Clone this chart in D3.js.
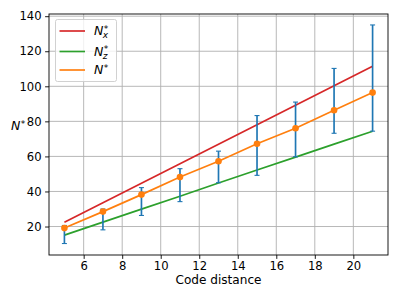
<!DOCTYPE html>
<html>
<head>
<meta charset="utf-8">
<script src="https://cdn.jsdelivr.net/npm/d3@7"></script>
<style>
  body { margin: 0; background: #fff; }
  svg { display: block; font-family: "DejaVu Sans", sans-serif; }
</style>
</head>
<body>
<script>
// data
var codeDistance = [5, 7, 9, 11, 13, 15, 17, 19, 21];
var nStar     = [19.1, 28.5, 38.2, 48.2, 57.2, 67.2, 76.1, 86.3, 96.4];
var nStarLow  = [10.3, 18.1, 26.3, 34.2, 45.0, 49.2, 59.8, 73.2, 74.4];
var nStarHigh = [20.6, 30.0, 42.2, 53.0, 63.0, 83.3, 91.0, 110.2, 135.0];
var nX = [22.5, 33.6, 44.7, 55.8, 66.9, 78.0, 89.2, 100.3, 111.4];
var nZ = [15.1, 22.5, 29.9, 37.3, 44.8, 52.2, 59.6, 67.0, 74.4];
var xTicks = [6, 8, 10, 12, 14, 16, 18, 20];
var yTicks = [20, 40, 60, 80, 100, 120, 140];

var W = 399, H = 299;
var pLeft = 49, pRight = 388, pTop = 14, pBottom = 255;
var fs = 11.6;

var svg = d3.select("body").append("svg").attr("width", W).attr("height", H);

var x = d3.scaleLinear().domain([4.2, 21.8]).range([pLeft, pRight]);
var y = d3.scaleLinear().domain([3.75, 141.25]).range([pBottom, pTop]);

// grid
svg.append("g").selectAll("line").data(xTicks).enter().append("line")
      .attr("x1", function(d){ return x(d); }).attr("x2", function(d){ return x(d); })
      .attr("y1", pTop).attr("y2", pBottom)
      .attr("stroke", "#b0b0b0").attr("stroke-width", 0.9);
svg.append("g").selectAll("line").data(yTicks).enter().append("line")
      .attr("y1", function(d){ return y(d); }).attr("y2", function(d){ return y(d); })
      .attr("x1", pLeft).attr("x2", pRight)
      .attr("stroke", "#b0b0b0").attr("stroke-width", 0.9);

var line = function(vals){
  return d3.line().x(function(d, i){ return x(codeDistance[i]); }).y(function(d){ return y(d); })(vals);
};

svg.append("path").attr("d", line(nX)).attr("fill", "none").attr("stroke", "#d62728").attr("stroke-width", 1.67);
svg.append("path").attr("d", line(nZ)).attr("fill", "none").attr("stroke", "#2ca02c").attr("stroke-width", 1.67);

// error bars
var eb = svg.append("g").attr("stroke", "#1f77b4").attr("stroke-width", 1.67);
codeDistance.forEach(function(d, i){
  eb.append("line").attr("x1", x(d)).attr("x2", x(d)).attr("y1", y(nStarLow[i])).attr("y2", y(nStarHigh[i]));
  [nStarLow[i], nStarHigh[i]].forEach(function(v){
    eb.append("line").attr("x1", x(d) - 2.5).attr("x2", x(d) + 2.5).attr("y1", y(v)).attr("y2", y(v)).attr("stroke-width", 1.1);
  });
});

svg.append("path").attr("d", line(nStar)).attr("fill", "none").attr("stroke", "#ff7f0e").attr("stroke-width", 1.67);
svg.selectAll("circle.pt").data(nStar).enter().append("circle")
      .attr("class", "pt")
      .attr("cx", function(d, i){ return x(codeDistance[i]); })
      .attr("cy", function(d){ return y(d); })
      .attr("r", 3.3)
      .attr("fill", "#ff7f0e");

// frame
svg.append("rect").attr("x", pLeft).attr("y", pTop).attr("width", pRight - pLeft).attr("height", pBottom - pTop)
      .attr("fill", "none").attr("stroke", "#000").attr("stroke-width", 0.9);

// axes
var xAxis = svg.append("g").attr("transform", "translate(0," + pBottom + ")")
      .call(d3.axisBottom(x).tickValues(xTicks).tickSize(3.9).tickPadding(3.2).tickFormat(d3.format("d")));
var yAxis = svg.append("g").attr("transform", "translate(" + pLeft + ",0)")
      .call(d3.axisLeft(y).tickValues(yTicks).tickSize(3.9).tickPadding(3.5).tickFormat(d3.format("d")));
[xAxis, yAxis].forEach(function(a){
  a.select(".domain").remove();
  a.attr("font-family", "DejaVu Sans").attr("font-size", fs);
  a.selectAll("text").attr("fill", "#000");
  a.selectAll("line").attr("stroke", "#000").attr("stroke-width", 0.9);
});

svg.append("text").text("Code distance")
      .attr("x", (pLeft + pRight) / 2).attr("y", 284)
      .attr("text-anchor", "middle").attr("font-size", 12.1).attr("fill", "#000");

// math-ish label: italic N with super * and optional subscript, one text element
function mathN(g, x0, yBase, sub){
  var t = g.append("text").attr("x", x0).attr("y", yBase).attr("fill", "#000");
  t.append("tspan").attr("font-size", 12.5).attr("font-style", "italic").text("N");
  var star = t.append("tspan").attr("font-size", 9).attr("dx", 0.5).attr("dy", -3.5).text("*");
  if (sub) {
    var sw = star.node().getComputedTextLength();
    t.append("tspan").attr("font-size", 9).attr("font-style", "italic")
          .attr("dx", -sw - 1).attr("dy", 6.5).text(sub);
  }
}

mathN(svg, 11, 130, null);

// legend
var legend = svg.append("g");
legend.append("rect").attr("x", 55.5).attr("y", 19.5).attr("width", 61).attr("height", 62).attr("rx", 2)
      .attr("fill", "#fff").attr("fill-opacity", 0.8).attr("stroke", "#cccccc").attr("stroke-width", 0.9);
var legendItems = [
  {c: "#d62728", sub: "x", y: 31},
  {c: "#2ca02c", sub: "z", y: 51.5},
  {c: "#ff7f0e", sub: null, y: 70}
];
legendItems.forEach(function(it){
  legend.append("line").attr("x1", 59.5).attr("x2", 85).attr("y1", it.y).attr("y2", it.y)
        .attr("stroke", it.c).attr("stroke-width", 1.67);
  mathN(legend, 94, it.y + 4, it.sub);
});
</script>
</body>
</html>
